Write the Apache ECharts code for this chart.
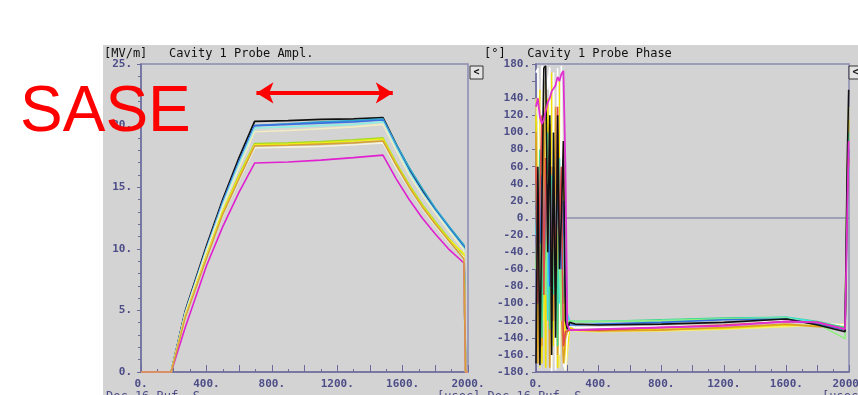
<!DOCTYPE html>
<html>
<head>
<meta charset="utf-8">
<script src="https://cdn.jsdelivr.net/npm/echarts@6/dist/echarts.min.js"></script>
<style>
  html, body { margin: 0; padding: 0; background: #fff; }
  #chart { width: 858px; height: 395px; }
</style>
</head>
<body>
<div id="chart"></div>
<script>
// ---- data ----
// amplitude [MV/m] vs time [usec]
var ampT = [0, 185, 270, 400, 500, 600, 695, 900, 1100, 1300, 1480, 1560, 1640, 1720, 1800, 1880, 1975, 1985, 2000];
var ampBlack   = [0, 0, 4.9, 10.2, 14.0, 17.4, 20.35, 20.4, 20.5, 20.55, 20.65, 18.5, 16.5, 14.8, 13.2, 11.8, 10.2, 0, 0];
var ampTeal    = [0, 0, 4.8, 10.0, 13.8, 17.1, 20.0, 20.15, 20.3, 20.4, 20.55, 18.5, 16.6, 14.9, 13.3, 11.9, 10.3, 0, 0];
var ampBlue    = [0, 0, 4.8, 10.0, 13.8, 17.1, 20.0, 20.1, 20.2, 20.3, 20.45, 18.3, 16.3, 14.6, 13.1, 11.7, 10.1, 0, 0];
var ampCyan    = [0, 0, 4.7, 9.9, 13.6, 16.9, 19.8, 19.9, 20.0, 20.1, 20.3, 18.2, 16.2, 14.5, 13.0, 11.6, 10.0, 0, 0];
var ampCream   = [0, 0, 4.7, 9.8, 13.4, 16.6, 19.5, 19.6, 19.75, 19.9, 20.1, 18.0, 16.0, 14.4, 12.9, 11.5, 9.9, 0, 0];
var ampLime    = [0, 0, 4.5, 9.4, 13.0, 16.0, 18.55, 18.6, 18.7, 18.85, 19.0, 17.0, 15.2, 13.6, 12.2, 10.9, 9.4, 0, 0];
var ampYellow  = [0, 0, 4.5, 9.4, 13.0, 15.9, 18.45, 18.5, 18.6, 18.75, 18.9, 16.9, 15.1, 13.5, 12.1, 10.8, 9.6, 0, 0];
var ampWhite   = [0, 0, 4.4, 9.2, 12.7, 15.6, 18.2, 18.25, 18.3, 18.45, 18.6, 16.6, 14.9, 13.3, 11.9, 10.6, 9.3, 0, 0];
var ampMagenta = [0, 0, 3.6, 8.6, 11.8, 14.6, 16.96, 17.05, 17.2, 17.4, 17.6, 15.7, 14.0, 12.5, 11.2, 10.0, 8.85, 0, 0];
var ampOrange  = [0, 0, 4.4, 9.2, 12.8, 15.7, 18.35, 18.4, 18.5, 18.6, 18.75, 16.8, 15.0, 13.4, 12.0, 10.7, 9.2, 0, 0];

// phase [deg] vs time [usec]
var phT = [0, 12, 25, 38, 50, 62, 75, 88, 100, 112, 125, 138, 150, 162, 175, 188, 200, 215, 250, 400, 800, 1200, 1600, 1800, 1975, 1988, 1998];
var phWhite    = [170, 175, -20, 178, 160, 179, 150, 176, -179, 170, -178, 175, -160, 178, -170, -178, -140, -125, -128, -128, -127, -126, -119, -123, -125, 20, 100];
var phGreen    = [40, -100, 80, -140, 20, -60, 100, -130, 50, -90, 10, -150, 70, -40, -100, -10, -125, -120, -121, -121, -119, -117, -116, -121, -128, 40, 100];
var phCyan     = [-20, 30, -80, 60, -10, 40, -120, 90, -50, 20, -30, 80, -100, 30, -60, -20, -112, -120, -121, -121, -120, -118, -116, -122, -130, 0, 60];
var phLight    = [-60, 20, -110, 70, -30, -90, 50, -20, -130, 30, -70, 100, -50, -120, 20, -80, -122, -120, -121, -121, -120, -118, -117, -124, -141, 30, 90];
var phBlue     = [10, 30, -30, 50, -60, 20, 40, -80, -20, 60, -40, 30, -10, -60, 20, -90, -126, -125, -125, -124, -122, -119, -118, -124, -131, 20, 80];
var phRed      = [60, -100, 30, 120, -90, 70, -30, 110, -120, 40, -80, 130, -20, 60, -150, -133, -134, -131, -131, -131, -128, -125, -121, -122, -130, 10, 70];
var phOrange   = [100, -170, 60, -150, 130, -90, 0, -175, 60, -120, 130, -160, 40, -110, -170, -140, -133, -130, -131, -132, -131, -128, -124, -127, -128, 30, 100];
var phBlack    = [-170, 60, -172, 20, 175, 178, -40, 120, -160, 100, -140, 120, -60, 0, 90, -120, -130, -122, -124, -125, -124, -122, -118, -125, -133, 60, 150];
var phYellow2  = [140, 10, -175, 100, -120, 170, -80, 60, -175, 140, -110, 30, -175, 120, -40, -178, -160, -130, -132, -133, -132, -130, -127, -125, -124, 50, 130];
var phYellow   = [120, -60, 150, -170, 60, -175, 140, -40, 170, -150, 80, -175, 160, -60, 90, -170, -150, -128, -131, -131, -130, -129, -125, -126, -127, 30, 115];
var phMagenta  = [130, 140, 118, 110, 115, 125, 135, 140, 148, 150, 155, 165, 160, 168, 172, 60, -125, -131, -131, -130, -128, -126, -121, -122, -130, 0, 90];

var zeroT = [0, 2000];
var zeroV = [0, 0];

// arrow annotation on the amplitude plot (usec, MV/m)
var arrowT = [706, 1540];
var arrowV = [22.65, 22.65];

var ampTicks = [0, 5, 10, 15, 20, 25];
var phHidden = [160];

// ---- chart ----
var chart = echarts.init(document.getElementById('chart'));

var axisCol = '#6c6c9c';
var labCol = '#4d4d88';
var mono = '"DejaVu Sans Mono", monospace';

function pairs(t, v) {
	return t.map(function (x, i) { return [x, v[i]]; });
}

function trace(name, color, t, v, idx, width) {
	return {
		name: name,
		type: 'line',
		xAxisIndex: idx,
		yAxisIndex: idx,
		data: pairs(t, v),
		symbol: 'none',
		silent: true,
		animation: false,
		lineStyle: { color: color, width: width || 1.6 },
		z: 3
	};
}

function xAxis(idx) {
	return {
		type: 'value',
		gridIndex: idx,
		min: 0,
		max: 2000,
		interval: 200,
		axisLine: { onZero: false, lineStyle: { color: axisCol, width: 1.5 } },
		axisTick: { inside: true, length: 7, lineStyle: { color: axisCol } },
		minorTick: { show: true, splitNumber: 2, length: 3, lineStyle: { color: axisCol } },
		splitLine: { show: false },
		axisLabel: {
			color: labCol,
			fontFamily: mono,
			fontSize: 11,
			fontWeight: 'bold',
			margin: 7,
			showMaxLabel: true,
			formatter: function (v) { return v % 400 === 0 ? v + '.' : ''; }
		}
	};
}

var series = [
	trace('black', '#111111', ampT, ampBlack, 0, 1.8),
	trace('teal', '#2aa8cc', ampT, ampTeal, 0),
	trace('blue', '#3d6fe0', ampT, ampBlue, 0),
	trace('cyan', '#8eeee2', ampT, ampCyan, 0),
	trace('cream', '#f3ebc2', ampT, ampCream, 0),
	trace('lime', '#a6d828', ampT, ampLime, 0),
	trace('yellow', '#eeee10', ampT, ampYellow, 0),
	trace('white', '#f6f2e2', ampT, ampWhite, 0),
	trace('magenta', '#e020d0', ampT, ampMagenta, 0),
	trace('orange', '#d4a238', ampT, ampOrange, 0),
	{
		type: 'line',
		xAxisIndex: 0,
		yAxisIndex: 0,
		data: pairs(arrowT, arrowV),
		symbol: 'none',
		silent: true,
		animation: false,
		lineStyle: { width: 0 },
		markLine: {
			silent: true,
			animation: false,
			symbol: ['arrow', 'arrow'],
			symbolSize: [16, 17],
			label: { show: false },
			lineStyle: { color: '#ff0000', width: 4, type: 'solid' },
			data: [[{ coord: [arrowT[0], arrowV[0]] }, { coord: [arrowT[1], arrowV[1]] }]]
		},
		z: 5
	},
	trace('zero', '#6c6c9c', zeroT, zeroV, 1, 1.2),
	trace('yellow2', '#f6ee70', phT, phYellow2, 1, 1.6),
	trace('yellow', '#f0e000', phT, phYellow, 1, 1.6),
	trace('white', '#ffffff', phT, phWhite, 1),
	trace('orange', '#dea024', phT, phOrange, 1),
	trace('green', '#3fd68e', phT, phGreen, 1),
	trace('cyan', '#42dfe8', phT, phCyan, 1),
	trace('lightgreen', '#8eef7e', phT, phLight, 1),
	trace('blue', '#3070e0', phT, phBlue, 1),
	trace('red', '#e04a4a', phT, phRed, 1),
	trace('black', '#111111', phT, phBlack, 1),
	trace('magenta', '#e030d0', phT, phMagenta, 1, 1.8)
];

function button(x, y) {
	return {
		type: 'group',
		x: x,
		y: y,
		children: [
			{ type: 'rect', shape: { x: 0, y: 0, width: 13, height: 13 }, style: { fill: '#e4e4e4', stroke: '#333333', lineWidth: 1 } },
			{ type: 'text', style: { text: '<', x: 6.5, y: 6.5, align: 'center', verticalAlign: 'middle', font: 'bold 10px ' + mono, fill: '#111' } }
		]
	};
}

chart.setOption({
	backgroundColor: '#ffffff',
	animation: false,
	grid: [
		{ left: 141, top: 64, right: 390, bottom: 23, outerBoundsMode: 'none', show: true, borderColor: '#8a8ab4', borderWidth: 1.5, backgroundColor: 'transparent' },
		{ left: 536, top: 64, right: 9, bottom: 23, outerBoundsMode: 'none', show: true, borderColor: '#8a8ab4', borderWidth: 1.5, backgroundColor: 'transparent' }
	],
	xAxis: [xAxis(0), xAxis(1)],
	yAxis: [
		{
			type: 'value',
			gridIndex: 0,
			min: 0,
			max: 25,
			interval: 5,
			axisLine: { show: true, onZero: false, lineStyle: { color: axisCol, width: 1.5 } },
			axisTick: { show: true, length: 4, lineStyle: { color: axisCol } },
			minorTick: { show: true, splitNumber: 5, length: 3, lineStyle: { color: axisCol } },
			splitLine: { show: false },
			axisLabel: {
				color: labCol, fontFamily: mono, fontSize: 11, fontWeight: 'bold', margin: 9,
				formatter: function (v) { return ampTicks.indexOf(v) >= 0 ? v + '.' : ''; }
			}
		},
		{
			type: 'value',
			gridIndex: 1,
			min: -180,
			max: 180,
			interval: 20,
			axisLine: { show: true, onZero: false, lineStyle: { color: axisCol, width: 1.5 } },
			axisTick: { show: true, length: 4, lineStyle: { color: axisCol } },
			splitLine: { show: false },
			axisLabel: {
				color: labCol, fontFamily: mono, fontSize: 11, fontWeight: 'bold', margin: 6,
				formatter: function (v) { return phHidden.indexOf(v) >= 0 ? '' : v + '.'; }
			}
		}
	],
	graphic: [
		{ type: 'rect', z: -10, silent: true, shape: { x: 103, y: 45, width: 755, height: 350 }, style: { fill: '#d3d3d3' } },
		{ type: 'text', silent: true, style: { text: '[MV/m]   Cavity 1 Probe Ampl.', x: 104, y: 54, verticalAlign: 'middle', font: '12px ' + mono, fill: '#111' } },
		{ type: 'text', silent: true, style: { text: '[°]   Cavity 1 Probe Phase', x: 484, y: 54, verticalAlign: 'middle', font: '12px ' + mono, fill: '#111' } },
		{ type: 'text', silent: true, style: { text: 'Dec 16 Buf. S', x: 106, y: 391, verticalAlign: 'top', font: '12px ' + mono, fill: '#4d4d88' } },
		{ type: 'text', silent: true, style: { text: '[usec] Dec 16 Buf. S', x: 437, y: 391, verticalAlign: 'top', font: '12px ' + mono, fill: '#4d4d88' } },
		{ type: 'text', silent: true, style: { text: '[usec]', x: 822, y: 391, verticalAlign: 'top', font: '12px ' + mono, fill: '#4d4d88' } },
		button(470, 66),
		button(849, 66),
		{ type: 'text', z: 100, silent: true, style: { text: 'SASE', x: 20, y: 113, verticalAlign: 'middle', font: '64px "Liberation Sans", Arial, sans-serif', fill: '#ff0000' } }
	],
	series: series
});
</script>
</body>
</html>
